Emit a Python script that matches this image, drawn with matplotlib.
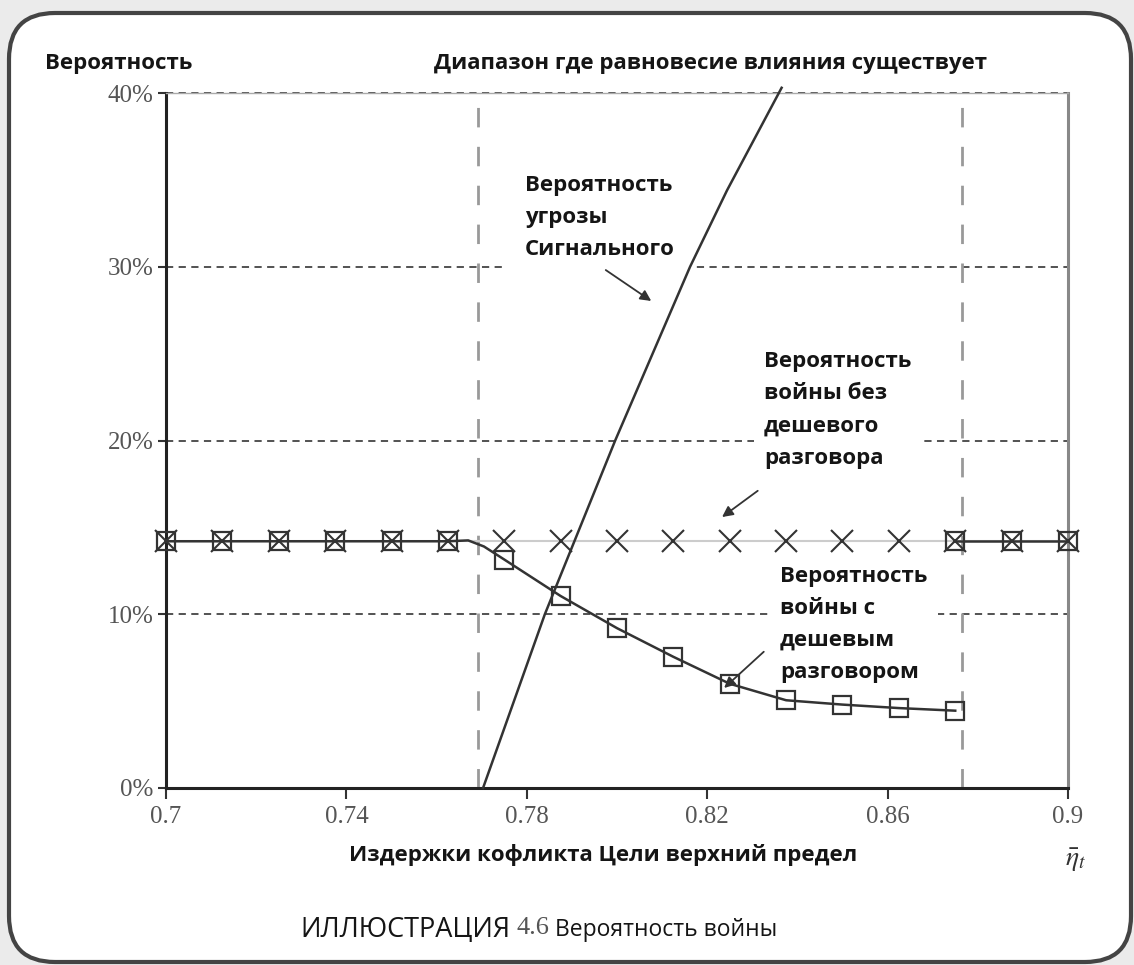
import matplotlib
matplotlib.use('Agg')
import matplotlib.pyplot as plt
from matplotlib.patches import FancyBboxPatch

W, H = 1134, 965

# marker positions along the x axis
x_marks = [0.7, 0.7125, 0.725, 0.7375, 0.75, 0.7625, 0.775, 0.7875, 0.8,
           0.8125, 0.825, 0.8375, 0.85, 0.8625, 0.875, 0.8875, 0.9]

# war probability without cheap talk (%)
no_talk = [14.2, 14.2, 14.2, 14.2, 14.2, 14.2, 14.2, 14.2, 14.2,
           14.2, 14.2, 14.2, 14.2, 14.2, 14.2, 14.2, 14.2]

# war probability with cheap talk (%), inside the equilibrium range
talk_x = [0.7, 0.7125, 0.725, 0.7375, 0.75, 0.7625, 0.767, 0.7705, 0.775,
          0.7875, 0.8, 0.8125, 0.825, 0.8375, 0.85, 0.8625, 0.875]
talk_y = [14.2, 14.2, 14.2, 14.2, 14.2, 14.2, 14.25, 13.9, 13.15,
          11.05, 9.2, 7.55, 6.0, 5.05, 4.8, 4.6, 4.45]
talk_mark_x = [0.7, 0.7125, 0.725, 0.7375, 0.75, 0.7625, 0.775, 0.7875, 0.8,
               0.8125, 0.825, 0.8375, 0.85, 0.8625, 0.875]
talk_mark_y = [14.2, 14.2, 14.2, 14.2, 14.2, 14.2, 13.15, 11.05, 9.2,
               7.55, 6.0, 5.05, 4.8, 4.6, 4.45]

# outside the range cheap talk equals no cheap talk
right_x = [0.875, 0.8875, 0.9]
right_y = [14.2, 14.2, 14.2]

# probability of a threat by the signaller (%)
threat_x = [0.7703, 0.7840, 0.7996, 0.8162, 0.8244, 0.8365]
threat_y = [0.0, 10.0, 20.0, 30.0, 34.4, 40.3]

range_lo, range_hi = 0.7692, 0.8765

xticks = [0.7, 0.74, 0.78, 0.82, 0.86, 0.9]
xtick_labels = ['0.7', '0.74', '0.78', '0.82', '0.86', '0.9']
yticks = [0, 10, 20, 30, 40]
ytick_labels = ['0%', '10%', '20%', '30%', '40%']

SANS = ['Open Sans', 'DejaVu Sans']
SERIF = ['Liberation Serif', 'DejaVu Serif']
TXT = '#151515'

fig = plt.figure(figsize=(W / 100, H / 100), dpi=100)
fig.patch.set_facecolor('#ebebeb')

frame = FancyBboxPatch(
    (0.09, 0.03), 11.22, 9.49,
    boxstyle='round,pad=0,rounding_size=0.46',
    transform=fig.dpi_scale_trans,
    facecolor='white', edgecolor='#444444', lw=3, zorder=0
)
fig.add_artist(frame)

ax = fig.add_axes([166 / W, 1 - 788 / H, (1068 - 166) / W, (788 - 93) / H])
ax.set_facecolor('none')

# grid
for yv in [10, 20, 30, 40]:
    ax.axhline(yv, color='#444444', lw=1.3, ls=(0, (4, 3)), zorder=1,
               clip_on=False)
for xv in [range_lo, range_hi]:
    ax.axvline(xv, color='#999999', lw=2, ls=(0, (7, 7)), zorder=1)

ax.plot(x_marks, no_talk, color='#cccccc', lw=1.5, zorder=3)
ax.plot(x_marks, no_talk, ls='none', marker='x', ms=16, mew=1.5,
        color='#333333', zorder=4, clip_on=False)

ax.plot(talk_x, talk_y, color='#333333', lw=1.8, zorder=3)
ax.plot(talk_mark_x, talk_mark_y, ls='none', marker='s', ms=13, mew=1.6,
        mfc='none', mec='#333333', zorder=4, clip_on=False)
ax.plot(right_x, right_y, color='#333333', lw=1.8, marker='s', ms=13,
        mew=1.6, mfc='none', mec='#333333', zorder=4, clip_on=False)

ax.plot(threat_x, threat_y, color='#333333', lw=1.8, zorder=3, clip_on=False)

ax.set_xlim(0.7, 0.9)
ax.set_ylim(0, 40)
ax.set_xticks(xticks)
ax.set_xticklabels(xtick_labels, family=SERIF, fontsize=18, color='#555555')
ax.set_yticks(yticks)
ax.set_yticklabels(ytick_labels, family=SERIF, fontsize=18, color='#555555')
ax.tick_params(axis='x', direction='out', length=8, width=1.5, pad=5,
               color='#333333')
ax.tick_params(axis='y', direction='out', length=6, width=1.5, pad=3,
               color='#333333')

ax.spines['left'].set_color('#222222')
ax.spines['left'].set_linewidth(2.2)
ax.spines['bottom'].set_color('#222222')
ax.spines['bottom'].set_linewidth(2.2)
ax.spines['right'].set_color('#888888')
ax.spines['right'].set_linewidth(2.2)
ax.spines['top'].set_color('#aaaaaa')
ax.spines['top'].set_linewidth(1)

# annotations
lab = dict(family=SANS, fontsize=16, fontweight='bold', color=TXT,
           linespacing=1.7, zorder=2.5, va='top', ha='left')

ax.text(0.7795, 35.3, 'Вероятность\nугрозы\nСигнального',
        bbox=dict(boxstyle='square,pad=0.95', fc='white', ec='none'), **lab)
ax.annotate('', xy=(0.8081, 27.94), xytext=(0.7970, 29.9),
            arrowprops=dict(arrowstyle='-|>', color='#333333', lw=1.3,
                            mutation_scale=16), zorder=3)

ax.text(0.8326, 25.15, 'Вероятность\nвойны без\nдешевого\nразговора',
        bbox=dict(boxstyle='square,pad=0.45', fc='white', ec='none'), **lab)
ax.annotate('', xy=(0.8228, 15.5), xytext=(0.8317, 17.2),
            arrowprops=dict(arrowstyle='-|>', color='#333333', lw=1.3,
                            mutation_scale=16), zorder=3)

ax.text(0.8361, 12.8, 'Вероятность\nвойны с\nдешевым\nразговором',
        bbox=dict(boxstyle='square,pad=0.5', fc='white', ec='none'), **lab)
ax.annotate('', xy=(0.8233, 5.65), xytext=(0.8330, 7.95),
            arrowprops=dict(arrowstyle='-|>', color='#333333', lw=1.3,
                            mutation_scale=16), zorder=3)

# texts outside the axes
top = dict(family=SANS, fontsize=16, fontweight='bold', color=TXT,
           va='center')
fig.text(45 / W, 1 - 63 / H, 'Вероятность', ha='left', **top)
fig.text(710 / W, 1 - 63 / H, 'Диапазон где равновесие влияния существует',
         ha='center', **top)
fig.text(603 / W, 1 - 855 / H, 'Издержки кофликта Цели верхний предел',
         ha='center', **top)
fig.text(1076 / W, 1 - 860 / H, r'$\bar{\eta}_t$', ha='center', va='center',
         fontsize=20, color='#333333', family=SERIF,
         math_fontfamily='stix')

fig.text(300 / W, 1 - 930 / H, 'ИЛЛЮСТРАЦИЯ', ha='left', va='center',
         family=SANS, fontsize=19.5, color=TXT)
fig.text(533 / W, 1 - 928 / H, '4.6', ha='center', va='center',
         family=SERIF, fontsize=19, color='#555555')
fig.text(777 / W, 1 - 930 / H, 'Вероятность войны', ha='right', va='center',
         family=SANS, fontsize=16.5, color=TXT)

fig.savefig('out.png', dpi=100, facecolor=fig.get_facecolor())
